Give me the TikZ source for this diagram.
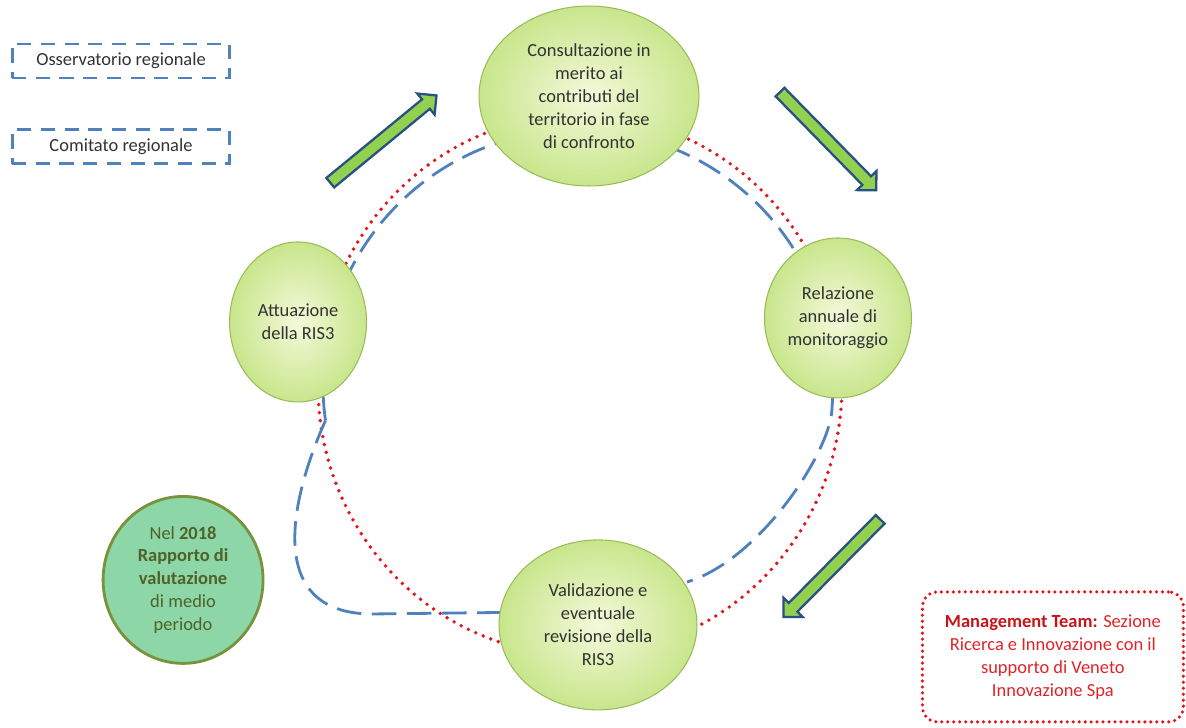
\documentclass[tikz,border=0pt]{standalone}
\usepackage{fontspec}
\setmainfont{Carlito}
\usetikzlibrary{shapes.geometric,shapes.arrows,positioning}

\definecolor{cyclefill}{RGB}{200,230,140}
\definecolor{cyclecore}{RGB}{244,249,218}
\definecolor{cycleline}{RGB}{155,187,89}
\definecolor{dashblue}{RGB}{79,129,189}
\definecolor{dotred}{RGB}{228,20,30}
\definecolor{evalfill}{RGB}{140,214,168}
\definecolor{evalline}{RGB}{119,147,60}
\definecolor{evaltext}{RGB}{79,98,40}
\definecolor{arrowgreen}{RGB}{146,208,80}
\definecolor{arrowblue}{RGB}{40,80,130}
\definecolor{mgmtred}{RGB}{225,35,40}
\definecolor{mgmtdark}{RGB}{200,20,25}
\definecolor{txtgray}{RGB}{50,50,50}

\begin{document}
\begin{tikzpicture}[x=0.02cm,y=-0.02cm,on grid,
  txt/.style={font=\fontsize{10.5}{13}\selectfont,align=center},
  phase/.style={ellipse,txt,draw=cycleline,line width=0.6pt,inner color=cyclecore,outer color=cyclefill,text=txtgray,inner sep=0pt},
  organ/.style={rectangle,txt,draw=dashblue,line width=1.7pt,dash pattern=on 8pt off 5.5pt,text=txtgray,minimum width=4.36cm,minimum height=0.68cm},
  flow/.style={single arrow,draw=arrowblue,fill=arrowgreen,line width=1.3pt,inner sep=0pt,inner ysep=0.1cm,single arrow head extend=0.15cm,minimum height=2.75cm},
  reddots/.style={draw=dotred,line width=2.2pt,line cap=round,dash pattern=on 0pt off 4.6pt},
  bluedash/.style={draw=dashblue,line width=1.6pt,dash pattern=on 14pt off 6pt}]
\useasboundingbox (0,0) rectangle (1186,727);

% cycle paths
\draw[reddots] (580,385) ellipse [x radius=262, y radius=270];
\draw[bluedash] (578,385) ++(172:255) arc [start angle=172, end angle=365, radius=255]
  .. controls (832,450) and (760,560) .. (687,582);
\draw[bluedash] (578,385) ++(172:255) .. controls (290,500) and (265,612) .. (370,614) -- (540,612);

% phases
\node[phase,minimum width=4.4cm,minimum height=3.6cm] (cons) at (589,96)
  {Consultazione in\\merito ai\\contributi del\\territorio in fase\\di confronto};
\node[phase,minimum width=2.74cm,minimum height=3.2cm] (att) [below left=4.52cm and 5.82cm of cons]
  {Attuazione\\della RIS3};
\node[phase,minimum width=2.94cm,minimum height=3.2cm] (rel) [below right=4.44cm and 4.98cm of cons]
  {Relazione\\annuale di\\monitoraggio};
\node[phase,minimum width=3.96cm,minimum height=3.4cm] (val) [below right=10.58cm and 0.18cm of cons]
  {Validazione e\\eventuale\\revisione della\\RIS3};

% evaluation
\node[ellipse,txt,draw=evalline,line width=1.6pt,fill=evalfill,text=evaltext,minimum width=3.2cm,minimum height=3.34cm,inner sep=0pt] (eval) [below left=5.16cm and 2.3cm of att]
  {Nel \textbf{2018}\\\textbf{Rapporto di}\\\textbf{valutazione}\\di medio\\periodo};

% organs
\node[organ] (oss) at (121,61) {Osservatorio regionale};
\node[organ] (com) [below=1.72cm of oss] {Comitato regionale};

\node[rectangle,txt,rounded corners=0.3cm,draw=dotred,line width=2pt,line cap=round,dash pattern=on 0pt off 3.4pt,text=mgmtred,minimum width=5.22cm,minimum height=2.6cm] (mgmt) [below right=0.64cm and 9.1cm of val]
  {\textcolor{mgmtdark}{\textbf{Management Team:}} Sezione\\Ricerca e Innovazione con il\\supporto di Veneto\\Innovazione Spa};

% flow arrows
\node[flow,rotate=39.4] (up) at (381,141) {};
\node[flow,rotate=-45.6] (down) at (826,139) {};
\node[flow,rotate=-134.7] (back) at (834,566) {};

\end{tikzpicture}
\end{document}
